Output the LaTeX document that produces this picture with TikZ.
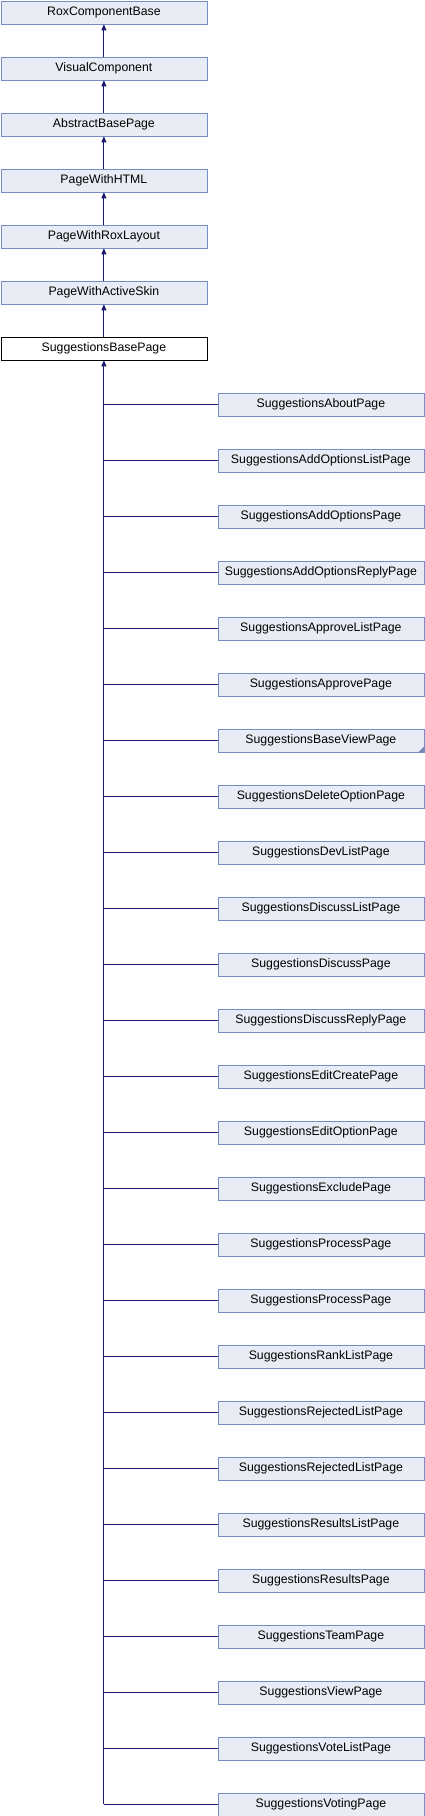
\documentclass[tikz,border=0pt]{standalone}
\usepackage{fontspec}
\setmainfont{Liberation Sans}
\usetikzlibrary{arrows.meta}
\definecolor{boxfill}{RGB}{232,236,244}
\definecolor{boxline}{RGB}{118,140,196}
\definecolor{edge}{RGB}{25,25,112}
\begin{document}
\begin{tikzpicture}[x=1pt,y=-1pt,
  cls/.style={draw=boxline,fill=boxfill,line width=0.8pt,minimum width=206pt,minimum height=23pt,text height=9pt,text depth=2.5pt,inner sep=0pt,font=\fontsize{12.3}{14}\selectfont,anchor=north west},
  cur/.style={cls,draw=black,fill=white},
  inh/.style={draw=edge,line width=0.9pt,-{Triangle[length=6pt,width=5pt]}},
  link/.style={draw=edge,line width=0.9pt}]
\useasboundingbox (0,0) rectangle (424,1816);
\node[cls] (p0) at (0.5,0.5) {RoxComponentBase};
\node[cls] (p1) at (0.5,56.5) {VisualComponent};
\node[cls] (p2) at (0.5,112.5) {AbstractBasePage};
\node[cls] (p3) at (0.5,168.5) {PageWithHTML};
\node[cls] (p4) at (0.5,224.5) {PageWithRoxLayout};
\node[cls] (p5) at (0.5,280.5) {PageWithActiveSkin};
\node[cur] (base) at (0.5,336.5) {SuggestionsBasePage};
\draw[inh] (p1) -- (p0);
\draw[inh] (p2) -- (p1);
\draw[inh] (p3) -- (p2);
\draw[inh] (p4) -- (p3);
\draw[inh] (p5) -- (p4);
\draw[inh] (base) -- (p5);
\foreach \t [count=\k from 0] in {SuggestionsAboutPage,SuggestionsAddOptionsListPage,SuggestionsAddOptionsPage,SuggestionsAddOptionsReplyPage,SuggestionsApproveListPage,SuggestionsApprovePage,SuggestionsBaseViewPage,SuggestionsDeleteOptionPage,SuggestionsDevListPage,SuggestionsDiscussListPage,SuggestionsDiscussPage,SuggestionsDiscussReplyPage,SuggestionsEditCreatePage,SuggestionsEditOptionPage,SuggestionsExcludePage,SuggestionsProcessPage,SuggestionsProcessPage,SuggestionsRankListPage,SuggestionsRejectedListPage,SuggestionsRejectedListPage,SuggestionsResultsListPage,SuggestionsResultsPage,SuggestionsTeamPage,SuggestionsViewPage,SuggestionsVoteListPage,SuggestionsVotingPage}{
  \node[cls] (c\k) at (217.5,392.5+56*\k) {\t};
  \coordinate (j\k) at (c\k.west -| base.south);
  \draw[link] (j\k) -- (c\k.west);
}
\fill[boxline!80!gray] (c6.south east) -- ++(0,-6) -- ++(-6,6) -- cycle;
\draw[inh] (j25) -- (base.south);
\end{tikzpicture}
\end{document}
